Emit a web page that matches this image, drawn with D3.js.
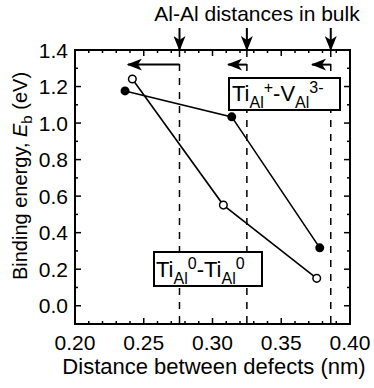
<!DOCTYPE html>
<html><head><meta charset="utf-8">
<script src="https://cdn.jsdelivr.net/npm/d3@7"></script>
<style>body{margin:0;background:#fff}svg{display:block}text{font-family:"Liberation Sans",Arial,sans-serif;fill:#000}</style>
</head><body>
<svg id="c" width="374" height="388"></svg>
<script>
// Data
const tiV_x = [0.2364, 0.314, 0.378];       // Ti_Al+ - V_Al3- (filled)
const tiV_y = [1.176, 1.034, 0.317];
const tiTi_x = [0.2417, 0.3079, 0.3758];    // Ti_Al0 - Ti_Al0 (open)
const tiTi_y = [1.241, 0.551, 0.150];
const bulkDist = [0.276, 0.325, 0.386];      // Al-Al distances in bulk
const relaxedDist = [0.2385, 0.3113, 0.3724];// arrow tips
const arrowY = 1.32;
const xTicks = [0.20, 0.25, 0.30, 0.35, 0.40];
const yTicks = [0.0, 0.2, 0.4, 0.6, 0.8, 1.0, 1.2, 1.4];

const svg = d3.select("#c");
const L = 75, R = 350, T = 50, B = 324;
const x = d3.scaleLinear().domain([0.20, 0.40]).range([L, R]);
const y = d3.scaleLinear().domain([-0.1, 1.4]).range([B, T]);

const defs = svg.append("defs");
defs.append("marker").attr("id","ah").attr("viewBox","0 0 15 12").attr("refX",14).attr("refY",6)
  .attr("markerWidth",15).attr("markerHeight",12).attr("markerUnits","userSpaceOnUse").attr("orient","auto")
  .append("path").attr("d","M0,0 L15,6 L0,12 L4,6 Z").attr("fill","#000");

// dashed bulk lines
svg.selectAll(".dash").data(bulkDist).enter().append("line")
  .attr("x1", d=>x(d)).attr("x2", d=>x(d)).attr("y1", T).attr("y2", B)
  .attr("stroke","#000").attr("stroke-width",1.5).attr("stroke-dasharray","7,7");

// frame
svg.append("rect").attr("x",L).attr("y",T).attr("width",R-L).attr("height",B-T)
  .attr("fill","none").attr("stroke","#000").attr("stroke-width",2);

// ticks
const xMinor = d3.range(0, 21).map(i => 0.20 + i*0.01);
const yMinor = d3.range(0, 16).map(i => -0.1 + i*0.1);
const isMajorX = v => Math.abs(v*20 - Math.round(v*20)) < 1e-6;
const isMajorY = v => Math.abs(v*5 - Math.round(v*5)) < 1e-6;
xMinor.forEach(v => {
  const len = isMajorX(v) ? 6 : 3;
  svg.append("line").attr("x1",x(v)).attr("x2",x(v)).attr("y1",B).attr("y2",B-len).attr("stroke","#000").attr("stroke-width",1.5);
  svg.append("line").attr("x1",x(v)).attr("x2",x(v)).attr("y1",T).attr("y2",T+len).attr("stroke","#000").attr("stroke-width",1.5);
});
yMinor.forEach(v => {
  const len = isMajorY(v) ? 6 : 3;
  svg.append("line").attr("y1",y(v)).attr("y2",y(v)).attr("x1",L).attr("x2",L+len).attr("stroke","#000").attr("stroke-width",1.5);
  svg.append("line").attr("y1",y(v)).attr("y2",y(v)).attr("x1",R).attr("x2",R-len).attr("stroke","#000").attr("stroke-width",1.5);
});

// tick labels
svg.selectAll(".xt").data(xTicks).enter().append("text")
  .attr("x", d=>x(d)).attr("y", 350).attr("text-anchor","middle").attr("font-size",21)
  .text(d=>d.toFixed(2));
svg.selectAll(".yt").data(yTicks).enter().append("text")
  .attr("x", 68).attr("y", d=>y(d)+7.5).attr("text-anchor","end").attr("font-size",21)
  .text(d=>d.toFixed(1));

// axis titles
svg.append("text").attr("x",214).attr("y",374).attr("text-anchor","middle").attr("font-size",22)
  .text("Distance between defects (nm)");
const yl = svg.append("text").attr("transform","translate(27,176) rotate(-90)").attr("text-anchor","middle").attr("font-size",20);
yl.append("tspan").text("Binding energy, ");
yl.append("tspan").attr("font-style","italic").text("E");
yl.append("tspan").attr("font-size",15).attr("dy",5).text("b");
yl.append("tspan").attr("dy",-5).text(" (eV)");

// top title & down arrows
svg.append("text").attr("x",257).attr("y",21).attr("text-anchor","middle").attr("font-size",21)
  .text("Al-Al distances in bulk");
svg.selectAll(".da").data(bulkDist).enter().append("line")
  .attr("x1", d=>x(d)).attr("x2", d=>x(d)).attr("y1", 28).attr("y2", 50)
  .attr("stroke","#000").attr("stroke-width",2).attr("marker-end","url(#ah)");

// left arrows
svg.selectAll(".la").data(bulkDist).enter().append("line")
  .attr("x1", d=>x(d)).attr("x2", (d,i)=>x(relaxedDist[i])).attr("y1", y(arrowY)).attr("y2", y(arrowY))
  .attr("stroke","#000").attr("stroke-width",2).attr("marker-end","url(#ah)");

// series lines
const line = d3.line().x(d=>x(d[0])).y(d=>y(d[1]));
const s1 = tiV_x.map((v,i)=>[v, tiV_y[i]]);
const s2 = tiTi_x.map((v,i)=>[v, tiTi_y[i]]);
svg.append("path").attr("d", line(s1)).attr("fill","none").attr("stroke","#000").attr("stroke-width",1.6);
svg.append("path").attr("d", line(s2)).attr("fill","none").attr("stroke","#000").attr("stroke-width",1.6);
svg.selectAll(".p1").data(s1).enter().append("circle")
  .attr("cx", d=>x(d[0])).attr("cy", d=>y(d[1])).attr("r",4.5).attr("fill","#000");
svg.selectAll(".p2").data(s2).enter().append("circle")
  .attr("cx", d=>x(d[0])).attr("cy", d=>y(d[1])).attr("r",3.8).attr("fill","#fff").attr("stroke","#000").attr("stroke-width",1.5);

// legend boxes
function label(bx, by, bw, bh, tx, ty, parts) {
  svg.append("rect").attr("x",bx).attr("y",by).attr("width",bw).attr("height",bh)
    .attr("fill","#fff").attr("stroke","#000").attr("stroke-width",2);
  const t = svg.append("text").attr("x",tx).attr("y",ty).attr("font-size",22);
  parts.forEach(p => {
    const ts = t.append("tspan").text(p.t);
    if (p.dy) ts.attr("dy", p.dy);
    if (p.fs) ts.attr("font-size", p.fs);
  });
}
label(229, 78, 111, 32, 232, 101, [
  {t:"Ti"}, {t:"Al", fs:16, dy:7}, {t:"+", fs:16, dy:-15}, {t:"-V", dy:8}, {t:"Al", fs:16, dy:7}, {t:"3-", fs:16, dy:-15}
]);
label(154, 252, 108, 34, 156, 277, [
  {t:"Ti"}, {t:"Al", fs:16, dy:7}, {t:"0", fs:16, dy:-15}, {t:"-Ti", dy:8}, {t:"Al", fs:16, dy:7}, {t:"0", fs:16, dy:-15}
]);
</script>
</body></html>
